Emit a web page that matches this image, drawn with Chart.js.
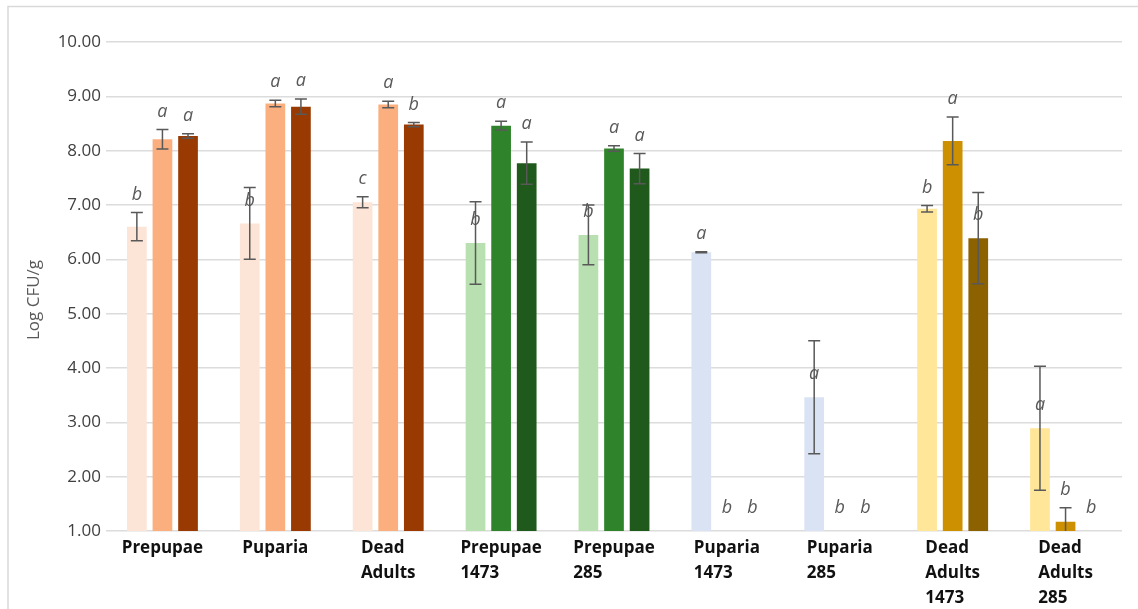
<!DOCTYPE html>
<html>
<head>
<meta charset="utf-8">
<script src="https://cdn.jsdelivr.net/npm/chart.js@4/dist/chart.umd.min.js"></script>
<style>
  html, body { margin: 0; padding: 0; background: #fff; }
  #wrap { width: 1138px; height: 609px; position: relative; }
</style>
</head>
<body>
<div id="wrap"><canvas id="cfuChart" width="1138" height="609"></canvas></div>
<script>
// categories (x labels, one line per array entry)
const categories = [
  ["Prepupae"],
  ["Puparia"],
  ["Dead", "Adults"],
  ["Prepupae", "1473"],
  ["Prepupae", "285"],
  ["Puparia", "1473"],
  ["Puparia", "285"],
  ["Dead", "Adults", "1473"],
  ["Dead", "Adults", "285"]
];

// means (log CFU/g), three bars per category
const series1 = [6.60, 6.66, 7.05, 6.30, 6.45, 6.13, 3.46, 6.93, 2.89];
const series2 = [8.21, 8.87, 8.85, 8.46, 8.04, 1.00, 1.00, 8.18, 1.17];
const series3 = [8.27, 8.81, 8.48, 7.77, 7.67, 1.00, 1.00, 6.39, 1.00];

// error bar half-lengths
const err1 = [0.26, 0.66, 0.10, 0.76, 0.55, 0.01, 1.04, 0.06, 1.14];
const err2 = [0.18, 0.06, 0.06, 0.08, 0.05, 0, 0, 0.44, 0.26];
const err3 = [0.04, 0.14, 0.04, 0.39, 0.28, 0, 0, 0.84, 0];

// significance letters
const letters1 = ["b", "b", "c", "b", "b", "a", "a", "b", "a"];
const letters2 = ["a", "a", "a", "a", "a", "b", "b", "a", "b"];
const letters3 = ["a", "a", "b", "a", "a", "b", "b", "b", "b"];

// y axis ticks
const yTicks = [1, 2, 3, 4, 5, 6, 7, 8, 9, 10];

const colors1 = ["#FCE4D6", "#FCE4D6", "#FCE4D6", "#B9E0B0", "#B9E0B0", "#DAE3F3", "#DAE3F3", "#FFE699", "#FFE699"];
const colors2 = ["#FBAF7E", "#FBAF7E", "#FBAF7E", "#2F842B", "#2F842B", "#DAE3F3", "#DAE3F3", "#CC9000", "#CC9000"];
const colors3 = ["#993A02", "#993A02", "#993A02", "#1F591B", "#1F591B", "#DAE3F3", "#DAE3F3", "#8C6100", "#8C6100"];

const errors = [err1, err2, err3];
const letters = [letters1, letters2, letters3];

const FONT = "'Open Sans', 'Noto Sans', sans-serif";

const extrasPlugin = {
  id: "extras",
  beforeDraw(chart) {
    const c = chart.ctx;
    c.save();
    c.strokeStyle = "#d9d9d9";
    c.lineWidth = 1.5;
    c.beginPath();
    c.moveTo(8, 609);
    c.lineTo(8, 6.5);
    c.lineTo(1138, 6.5);
    c.stroke();
    c.restore();
  },
  afterDatasetsDraw(chart) {
    const c = chart.ctx;
    const y = chart.scales.y;
    const area = chart.chartArea;
    c.save();
    // error bars
    c.beginPath();
    c.rect(area.left, area.top - 20, area.right - area.left, area.bottom - area.top + 20);
    c.clip();
    c.strokeStyle = "#595959";
    c.lineWidth = 1.5;
    chart.data.datasets.forEach((ds, d) => {
      chart.getDatasetMeta(d).data.forEach((bar, i) => {
        const e = errors[d][i];
        if (!e) return;
        const v = ds.data[i];
        const top = y.getPixelForValue(v + e);
        const bot = y.getPixelForValue(v - e);
        c.beginPath();
        c.moveTo(bar.x, top);
        c.lineTo(bar.x, bot);
        c.moveTo(bar.x - 6, top);
        c.lineTo(bar.x + 6, top);
        c.moveTo(bar.x - 6, bot);
        c.lineTo(bar.x + 6, bot);
        c.stroke();
      });
    });
    c.restore();

    // letters
    c.save();
    c.fillStyle = "#595959";
    c.font = "italic 18px " + FONT;
    c.textAlign = "center";
    c.textBaseline = "middle";
    chart.data.datasets.forEach((ds, d) => {
      chart.getDatasetMeta(d).data.forEach((bar, i) => {
        const e = errors[d][i];
        const v = ds.data[i];
        let ly = y.getPixelForValue(v) - 23;
        if (e > 0 && e < 0.5) ly = y.getPixelForValue(v + e) - 18;
        c.fillText(letters[d][i], bar.x, ly);
      });
    });
    c.restore();
  },
  afterDraw(chart) {
    const c = chart.ctx;
    const x = chart.scales.x;
    c.save();
    // category labels: lines left aligned, block centred on the category
    c.fillStyle = "#111";
    c.font = "bold 17px " + FONT;
    c.textBaseline = "middle";
    c.textAlign = "left";
    categories.forEach((lines, i) => {
      const cx = x.getPixelForValue(i);
      const w = Math.max(...lines.map((l) => c.measureText(l).width));
      lines.forEach((l, k) => {
        c.fillText(l, cx - w / 2, 548 + k * 25);
      });
    });
    // y axis title
    c.fillStyle = "#595959";
    c.font = "17px " + FONT;
    c.translate(34, 300);
    c.rotate(-Math.PI / 2);
    c.textAlign = "center";
    c.fillText("Log CFU/g", 0, 0);
    c.restore();
  }
};

new Chart(document.getElementById("cfuChart"), {
  type: "bar",
  data: {
    labels: categories.map((l) => l.join(" ")),
    datasets: [
      { label: "1", data: series1, backgroundColor: colors1 },
      { label: "2", data: series2, backgroundColor: colors2 },
      { label: "3", data: series3, backgroundColor: colors3 }
    ]
  },
  options: {
    responsive: false,
    animation: false,
    devicePixelRatio: 1,
    categoryPercentage: 0.68,
    barPercentage: 0.77,
    layout: { padding: { top: 42, right: 16, bottom: 70, left: 0 } },
    plugins: {
      legend: { display: false },
      tooltip: { enabled: false }
    },
    scales: {
      x: {
        ticks: { display: false },
        grid: { display: false },
        border: { display: false }
      },
      y: {
        min: 1,
        max: 10,
        afterFit(scale) { scale.width = 106; },
        afterBuildTicks(scale) { scale.ticks = yTicks.map((v) => ({ value: v })); },
        ticks: {
          color: "#404040",
          font: { family: FONT, size: 17 },
          padding: 5,
          callback: (v) => v.toFixed(2)
        },
        grid: { color: "#dcdcdc", lineWidth: 1.5, drawTicks: false },
        border: { display: false }
      }
    }
  },
  plugins: [extrasPlugin]
});
</script>
</body>
</html>
